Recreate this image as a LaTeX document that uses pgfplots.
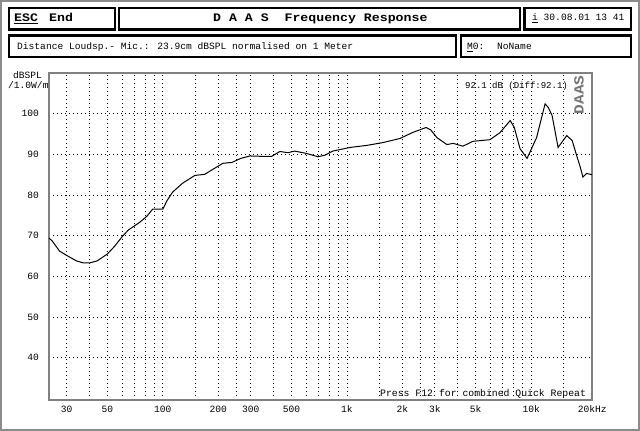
\documentclass[border=0pt]{standalone}
\usepackage{fontspec}
\setmainfont{Liberation Mono}
\newfontfamily\hdr[FakeStretch=1.15]{Liberation Mono}
\usepackage{pgfplots}
\pgfplotsset{compat=1.18}
\newcommand{\reg}{\fontsize{9.6}{10}\selectfont}
\begin{document}
\begin{tikzpicture}
\begin{scope}[x=1pt,y=1pt]
\path[use as bounding box] (0,0) rectangle (640,431);
% outer frame
\draw[black!45, line width=2pt] (1,1) rectangle (638.5,430);
% header boxes
\begin{scope}[line width=2.3pt]
\draw (9,401.5) rectangle (115,423);
\draw (119,401.5) rectangle (520,423);
\draw (524.5,401.5) rectangle (631,423);
\draw (9,374) rectangle (456,395.5);
\draw (461,374) rectangle (631,395.5);
\end{scope}
\node[anchor=base west, inner sep=0] at (14,409) {\hdr\bfseries\fontsize{11.5}{12}\selectfont \underline{ESC}};
\node[anchor=base west, inner sep=0] at (49,409) {\hdr\bfseries\fontsize{11.5}{12}\selectfont End};
\node[anchor=base west, inner sep=0] at (213,409) {\hdr\bfseries\fontsize{11.5}{12}\selectfont D A A S\ \ Frequency Response};
\node[anchor=base west, inner sep=0] at (532,410.5) {\reg \underline{i} 30.08.01 13 41};
\node[anchor=base west, inner sep=0] at (17,381.5) {\reg Distance Loudsp.- Mic.: 23.9cm dBSPL normalised on 1 Meter};
\node[anchor=base west, inner sep=0] at (467,381.5) {\reg \underline{M}0:};
\node[anchor=base west, inner sep=0] at (497,381.5) {\reg NoName};
% y label
\node[anchor=base west, inner sep=0] at (13,352) {\reg dBSPL};
\node[anchor=base west, inner sep=0] at (8,342) {\reg /1.0W/m};
\end{scope}
\begin{axis}[
  at={(49pt,31pt)}, anchor=south west,
  scale only axis, width=543pt, height=327pt,
  xmode=log, xmin=24.1, xmax=21400, ymin=29.6, ymax=110,
  xtick={30,50,100,200,300,500,1000,2000,3000,5000,10000},
  xticklabels={30,50,100,200,300,500,1k,2k,3k,5k,10k},
  extra x ticks={20000}, extra x tick labels={20k\rlap{Hz}},
  extra x tick style={grid=none},
  minor xtick={40,60,70,80,90,150,250,400,600,700,800,900,1500,2500,4000,6000,7000,8000,9000,15000},
  ytick={40,50,60,70,80,90,100},
  grid=both,
  major grid style={black, line width=0.8pt, dash pattern=on 0.8pt off 3.2pt},
  minor grid style={black, line width=0.8pt, dash pattern=on 0.8pt off 3.2pt},
  major tick length=0pt, minor tick length=0pt,
  axis line style={black!50, line width=1.7pt},
  /pgf/number format/assume math mode=true,
  ticklabel style={font=\reg},
  xticklabel style={anchor=base, yshift=-13pt, inner sep=0pt},
  yticklabel style={anchor=east, xshift=-10pt, inner sep=0pt},
  clip=false,
]
\addplot[black, line width=1pt] coordinates {
(24.1,69.4) (25,68.8) (27.5,66.2) (31,64.8) (34,63.8) (37,63.3) (40,63.3)
(44,63.8) (50,65.5) (55,67.5) (60,69.7) (65,71.4) (75,73.3) (82,74.8)
(88,76.5) (100,76.5) (105,78.5) (113,80.7) (128,82.9) (149,84.8) (169,85.1)
(190,86.5) (212,87.8) (237,88.0) (265,89.0) (297,89.6) (350,89.5) (390,89.5)
(432,90.7) (478,90.4) (520,90.8) (606,90.2) (696,89.4) (760,89.8) (837,90.8)
(1040,91.7) (1283,92.2) (1570,92.9) (1940,93.9) (2280,95.4) (2690,96.6)
(2850,96.0) (3080,94.1) (3490,92.4) (3770,92.7) (4260,92.0) (4830,93.2)
(5970,93.6) (6760,95.3) (7700,98.3) (8100,96.6) (8700,91.4) (9500,89.0)
(10700,94.1) (11900,102.4) (12400,101.5) (13000,99.5) (14000,91.7)
(15600,94.6) (16700,93.4) (17800,89.2) (18500,86.8) (19100,84.4)
(20000,85.3) (21400,85.0)
};
\end{axis}
\begin{scope}[x=1pt,y=1pt]
\node[anchor=base west, inner sep=0] at (465,342) {\fontsize{9}{9}\selectfont 92.1 dB (Diff:92.1)};
\node[rotate=90, inner sep=0, text=black!55] at (579,336) {\hdr\bfseries\fontsize{14}{14}\selectfont DAAS};
\node[anchor=base west, inner sep=0] at (380,34) {\fontsize{9.8}{10}\selectfont Press F12 for combined Quick Repeat};
\end{scope}
\end{tikzpicture}
\end{document}
